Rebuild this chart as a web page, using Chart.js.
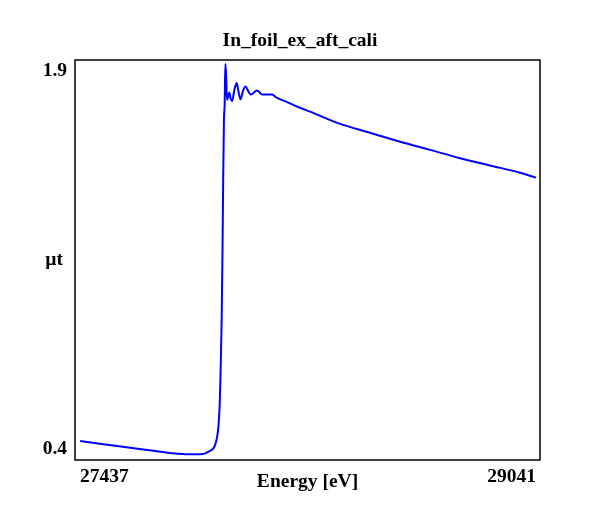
<!DOCTYPE html>
<html>
<head>
<meta charset="utf-8">
<script src="https://cdn.jsdelivr.net/npm/chart.js@4"></script>
<style>
  body { margin:0; background:#fff; }
  #wrap { width:600px; height:520px; }
</style>
</head>
<body>
<div id="wrap"><canvas id="myChart" width="600" height="520"></canvas></div>
<script>
// energy in eV, absorption mu*t
var energy = [27437, 27525, 27613, 27701, 27782, 27841, 27870, 27884, 27894, 27905,
  27912, 27919, 27924, 27928, 27931, 27935, 27938, 27940, 27943, 27945.5,
  27948, 27950.5, 27954, 27958, 27962, 27966, 27972, 27979, 27987.5, 27994.5,
  28001.5, 28010, 28019, 28028, 28037, 28047, 28058, 28067, 28077, 28095,
  28112, 28130, 28165, 28211, 28246, 28352, 28457, 28563, 28668, 28774,
  28879, 28985, 29041];
var mu = [0.453, 0.440, 0.427, 0.415, 0.404, 0.402, 0.403, 0.409, 0.415, 0.424,
  0.438, 0.469, 0.515, 0.592, 0.707, 0.919, 1.189, 1.420, 1.689, 1.747,
  1.905, 1.862, 1.766, 1.781, 1.795, 1.774, 1.762, 1.801, 1.831, 1.797,
  1.768, 1.801, 1.818, 1.801, 1.787, 1.793, 1.803, 1.797, 1.787, 1.787,
  1.787, 1.774, 1.758, 1.736, 1.721, 1.674, 1.640, 1.605, 1.574, 1.542,
  1.514, 1.486, 1.467];
var xTicks = [27437, 29041];
var yTicks = [0.4, 1.9];
var title = 'In_foil_ex_aft_cali';
var xTitle = 'Energy [eV]';
var yTitle = 'µt';

var font = 'Liberation Serif';
var fsize = 19.5;

var points = [];
for (let i = 0; i < energy.length; i++) {
    points.push({x: energy[i], y: mu[i]});
}

// frame around the plot and the horizontal y title
var framePlugin = {
    id: 'frame',
    afterDraw: function(chart) {
        var ctx = chart.ctx;
        var a = chart.chartArea;
        ctx.save();
        ctx.strokeStyle = '#000';
        ctx.lineWidth = 1.5;
        ctx.strokeRect(a.left, a.top, a.right - a.left, a.bottom - a.top);
        ctx.fillStyle = '#000';
        ctx.font = 'bold ' + fsize + 'px "' + font + '"';
        ctx.textAlign = 'right';
        ctx.textBaseline = 'middle';
        ctx.fillText(yTitle, a.left - 12, (a.top + a.bottom) / 2);
        ctx.restore();
    }
};

var ctx = document.querySelector('#myChart').getContext('2d');
var myChart = new Chart(ctx, {
    type: 'scatter',
    data: {
        datasets: [{
            data: points,
            showLine: true,
            borderColor: '#0000ff',
            borderWidth: 2,
            pointRadius: 0,
            cubicInterpolationMode: 'monotone'
        }]
    },
    options: {
        responsive: false,
        animation: false,
        layout: { padding: 0 },
        plugins: {
            legend: { display: false },
            tooltip: { enabled: false },
            title: {
                display: true,
                text: title,
                color: '#000',
                font: { family: font, size: fsize, weight: 'bold', lineHeight: 1.2 },
                padding: { top: 29, bottom: 7.6 }
            }
        },
        scales: {
            x: {
                type: 'linear',
                min: 27419,
                max: 29055,
                grid: { display: false, drawTicks: false },
                border: { display: false },
                afterBuildTicks: function(scale) {
                    scale.ticks = xTicks.map(v => ({value: v}));
                },
                afterFit: function(scale) { scale.height = 60; },
                ticks: {
                    align: 'inner',
                    maxRotation: 0,
                    padding: 5,
                    color: '#000',
                    font: { family: font, size: fsize, weight: 'bold' },
                    callback: function(v) { return String(v); }
                },
                title: {
                    display: true,
                    text: xTitle,
                    color: '#000',
                    font: { family: font, size: fsize, weight: 'bold', lineHeight: 1.2 },
                    padding: { top: 0, bottom: 26.3 }
                }
            },
            y: {
                type: 'linear',
                min: 0.38,
                max: 1.92,
                grid: { display: false, drawTicks: false },
                border: { display: false },
                afterBuildTicks: function(scale) {
                    scale.ticks = yTicks.map(v => ({value: v}));
                },
                afterFit: function(scale) { scale.width = 75; },
                ticks: {
                    padding: 8,
                    color: '#000',
                    font: { family: font, size: fsize, weight: 'bold', lineHeight: 0.56 },
                    // push the end labels inward like the original
                    callback: function(v) {
                        if (v === yTicks[0]) return [v.toFixed(1), ''];
                        return ['', v.toFixed(1)];
                    }
                }
            },
            // empty right axis, only keeps the white margin on the right
            yRight: {
                position: 'right',
                grid: { display: false, drawTicks: false },
                border: { display: false },
                ticks: { display: false },
                afterFit: function(scale) { scale.width = 60; }
            }
        }
    },
    plugins: [framePlugin]
});
</script>
</body>
</html>
